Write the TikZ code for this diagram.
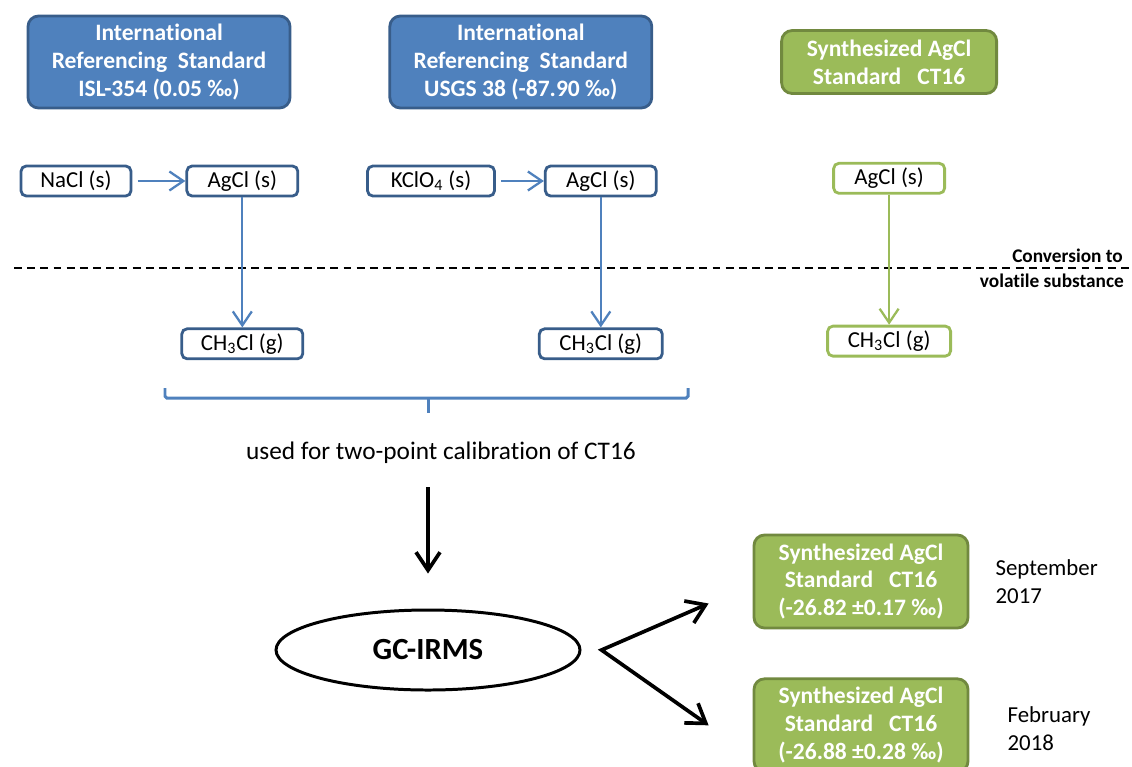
\documentclass[tikz,border=0pt]{standalone}
\usepackage{fontspec}
\setmainfont{Carlito}[Ligatures=NoCommon]
\usepackage{tikz}
\usetikzlibrary{
  arrows.meta,
  positioning,
  shapes.geometric,
}

\definecolor{stdblue}{HTML}{4F81BD}
\definecolor{stdblueline}{HTML}{385D8A}
\definecolor{stdgreen}{HTML}{9BBB59}
\definecolor{stdgreenline}{HTML}{71893F}

\begin{document}
\begin{tikzpicture}[
  refbox/.style={
    draw=stdblueline, fill=stdblue, line width=1.6pt, rounded corners=6pt,
    minimum width=5.24cm, minimum height=1.84cm, align=center,
    text=white, font=\fontsize{13.4}{15.9}\selectfont\bfseries,
  },
  synbox/.style={
    draw=stdgreenline, fill=stdgreen, line width=1.6pt, rounded corners=6pt,
    minimum width=4.3cm, minimum height=1.26cm, align=center,
    text=white, font=\fontsize{13.4}{15.9}\selectfont\bfseries,
  },
  chembox/.style={
    draw=stdblueline, fill=white, line width=1.6pt, rounded corners=3pt,
    minimum width=2.22cm, minimum height=0.6cm, inner sep=1pt,
    font=\fontsize{13}{15}\selectfont,
  },
  gchembox/.style={chembox, draw=stdgreen},
  flow/.style={-{Straight Barb[length=2.8mm,width=3.8mm]}, line width=1.3pt, stdblue},
  bigflow/.style={-{Straight Barb[length=3.6mm,width=4.8mm]}, line width=2.1pt, black},
  brace/.style={line width=1.7pt, stdblue, rounded corners=1pt},
  convline/.style={dashed, dash pattern=on 4.5pt off 3pt, line width=0.9pt},
  note/.style={font=\fontsize{11}{13}\selectfont\bfseries},
  plain/.style={font=\fontsize{13}{15.9}\selectfont, align=left},
]
\useasboundingbox (0,0) rectangle (22.64,-15.32);

% ── Standards ───────────────────────────────────────────────────────
\node[refbox] (isl) at (3.18,-1.24)
  {International\\Referencing\ \ Standard\\ISL-354 (0.05 ‰)};
\node[refbox, right=1.94cm of isl] (usgs)
  {International\\Referencing\ \ Standard\\USGS 38 (-87.90 ‰)};
\node[synbox, right=2.54cm of usgs] (ct)
  {Synthesized AgCl\\Standard\ \ \ CT16};

% ── Solid phase ─────────────────────────────────────────────────────
\node[chembox, minimum width=2.2cm] (nacl) at (1.52,-3.62) {NaCl (s)};
\node[chembox, right=1.06cm of nacl] (agcla) {AgCl (s)};
\node[chembox, minimum width=2.54cm] (kclo) at (8.62,-3.62) {KClO\textsubscript{4} (s)};
\node[chembox, right=0.96cm of kclo] (agclb) {AgCl (s)};
\node[gchembox, below=1.34cm of ct] (agclc) {AgCl (s)};

% ── Conversion line ─────────────────────────────────────────────────
\coordinate (convl) at (0.28,-5.36);
\coordinate (convr) at (22.64,-5.36);
\draw[convline] (convl) -- (convr);
\node[note, anchor=base east] (convtop) at (22.58,-5.24) {Conversion to};
\node[note, anchor=base east] (convbot) at (22.6,-5.74) {volatile substance};

% ── Gas phase ───────────────────────────────────────────────────────
\node[chembox, minimum width=2.42cm, below=2.6cm of agcla] (ch3a) {CH\textsubscript{3}Cl (g)};
\node[chembox, minimum width=2.46cm, below=2.6cm of agclb] (ch3b) {CH\textsubscript{3}Cl (g)};
\node[gchembox, minimum width=2.46cm, below=2.6cm of agclc] (ch3c) {CH\textsubscript{3}Cl (g)};

% ── Connections: preparation ────────────────────────────────────────
\draw[flow, shorten <=3pt] (nacl) -- (agcla);
\draw[flow, shorten <=3pt] (kclo) -- (agclb);
\draw[flow] (agcla) -- (ch3a.north -| agcla);
\draw[flow] (agclb) -- (ch3b);
\draw[flow, stdgreen] (agclc) -- (ch3c);

% ── Calibration bracket ─────────────────────────────────────────────
\coordinate (brl) at (3.3,-7.76);
\coordinate (brr) at (13.76,-7.76);
\coordinate (brm) at (8.56,-7.96);
\draw[brace] (brl) -- (brl |- brm) -- (brr |- brm) -- (brr);
\draw[brace] (brm) -- ++(0,-0.3);

\node[plain, font=\fontsize{14.4}{17}\selectfont] (calib) at (8.82,-9.06)
  {used for two-point calibration of CT16};

% ── Measurement ─────────────────────────────────────────────────────
\node[draw, ellipse, line width=1.7pt, minimum width=6.08cm, minimum height=1.6cm,
      font=\fontsize{17.5}{20}\selectfont\bfseries] (gc) at (8.56,-13.0) {GC-IRMS};
\draw[bigflow, shorten <=0.34cm, shorten >=0.7cm] (calib.south -| gc.north) -- (gc.north);

\node[synbox, minimum width=4.28cm, minimum height=1.86cm] (res1) at (17.22,-11.63)
  {Synthesized AgCl\\Standard\ \ \ CT16\\(-26.82 ±0.17 ‰)};
\node[synbox, minimum width=4.28cm, minimum height=1.86cm, below=0.96cm of res1] (res2)
  {Synthesized AgCl\\Standard\ \ \ CT16\\(-26.88 ±0.28 ‰)};

\node[plain, right=0.4cm of res1] (sep) {September\\2017};
\node[plain, right=0.64cm of res2, yshift=-0.06cm] (feb) {February\\2018};

\coordinate (fork) at ([xshift=0.4cm]gc.east);
\draw[bigflow, {Straight Barb[length=3.6mm,width=4.8mm]}-{Straight Barb[length=3.6mm,width=4.8mm]}]
  ([xshift=-0.88cm,yshift=-0.44cm]res1.west) -- (fork) -- ([xshift=-0.88cm]res2.west);

\end{tikzpicture}
\end{document}
